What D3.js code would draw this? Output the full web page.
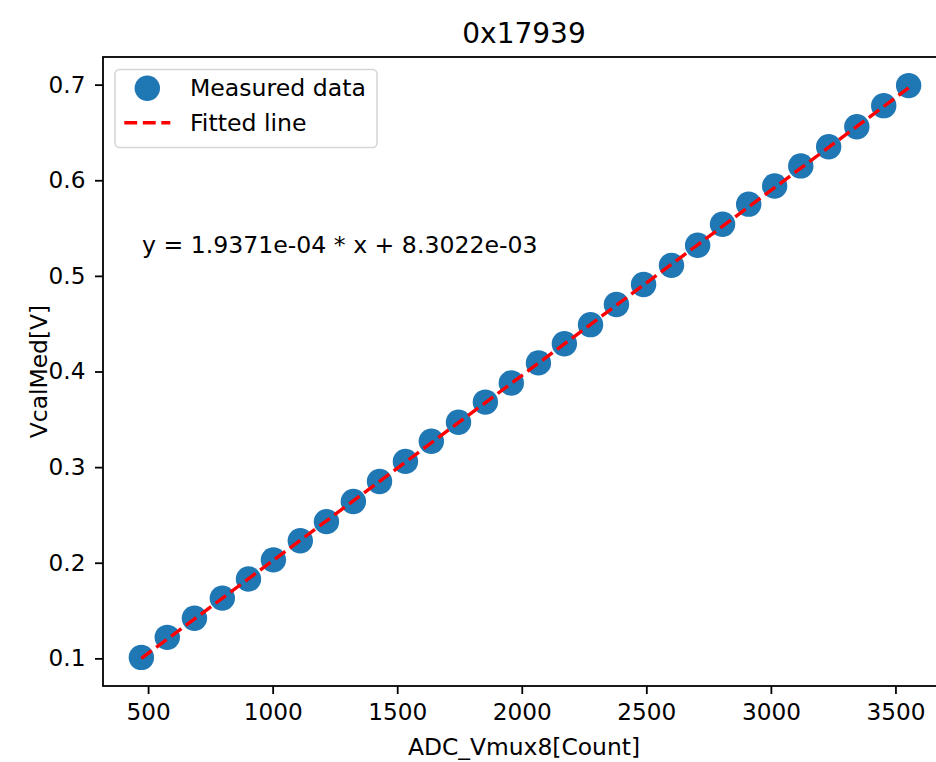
<!DOCTYPE html>
<html>
<head>
<meta charset="utf-8">
<script src="https://cdn.jsdelivr.net/npm/d3@7"></script>
<style>
  body { margin: 0; background: #fff; }
  text { font-family: "DejaVu Sans", sans-serif; fill: #000; }
</style>
</head>
<body>
<div id="chart"></div>
<script>
var adcCounts = [473, 577, 686, 798, 903, 1003, 1111, 1216, 1324, 1429,
                 1533, 1637, 1746, 1854, 1958, 2067, 2171, 2276, 2380, 2489,
                 2601, 2706, 2806, 2911, 3015, 3120, 3232, 3345, 3453, 3553];
var vcalMed = [0.101, 0.122, 0.142, 0.163, 0.183, 0.203, 0.223, 0.243, 0.264, 0.285,
               0.306, 0.327, 0.347, 0.368, 0.388, 0.409, 0.429, 0.449, 0.470, 0.491,
               0.511, 0.532, 0.554, 0.575, 0.594, 0.615, 0.635, 0.656, 0.678, 0.699];

// fit coefficients as printed on the chart
var fitSlope = 1.9371e-04;
var fitIntercept = 8.3022e-03;

var xTicks = [500, 1000, 1500, 2000, 2500, 3000, 3500];
var yTicks = [0.1, 0.2, 0.3, 0.4, 0.5, 0.6, 0.7];

var titleText = "0x17939";
var xLabelText = "ADC_Vmux8[Count]";
var yLabelText = "VcalMed[V]";
var legendLabels = ["Measured data", "Fitted line"];

var svgWidth = 936;
var svgHeight = 762;
var fontSize = 23.2;
var legendFont = 23.6;

// axes box (right side runs past the picture edge)
var plot = { left: 103, top: 57, right: 947, bottom: 686 };

var svg = d3.select("#chart")
    .append("svg")
    .attr("width", svgWidth)
    .attr("height", svgHeight);

svg.append("rect")
    .attr("width", svgWidth)
    .attr("height", svgHeight)
    .attr("fill", "#fff");

// matplotlib-like 5% margins
var xPad = (d3.max(adcCounts) - d3.min(adcCounts)) * 0.05;
var yPad = (d3.max(vcalMed) - d3.min(vcalMed)) * 0.05;

var xScale = d3.scaleLinear()
    .domain([d3.min(adcCounts) - xPad, d3.max(adcCounts) + xPad])
    .range([plot.left, plot.right]);

var yScale = d3.scaleLinear()
    .domain([d3.min(vcalMed) - yPad, d3.max(vcalMed) + yPad])
    .range([plot.bottom, plot.top]);

var data = adcCounts.map(function (x, i) {
    return { x: x, y: vcalMed[i] };
});

// points
var chartGroup = svg.append("g");
chartGroup.selectAll("circle")
    .data(data)
    .enter()
    .append("circle")
    .attr("cx", d => xScale(d.x))
    .attr("cy", d => yScale(d.y))
    .attr("r", 12.7)
    .attr("fill", "#1f77b4");

// fitted line
var xEnds = d3.extent(adcCounts);
var line = d3.line()
    .x(d => xScale(d))
    .y(d => yScale(fitSlope * d + fitIntercept));

chartGroup.append("path")
    .datum(xEnds)
    .attr("d", line)
    .attr("fill", "none")
    .attr("stroke", "red")
    .attr("stroke-width", 3.4)
    .attr("stroke-dasharray", "12.9,5.6");

// axes
var xAxis = d3.axisBottom(xScale)
    .tickValues(xTicks)
    .tickSize(8)
    .tickPadding(9.5)
    .tickFormat(d3.format("d"));

var yAxis = d3.axisLeft(yScale)
    .tickValues(yTicks)
    .tickSize(8)
    .tickPadding(9.5)
    .tickFormat(d3.format(".1f"));

var gx = svg.append("g")
    .attr("transform", `translate(0, ${plot.bottom})`)
    .call(xAxis);

var gy = svg.append("g")
    .attr("transform", `translate(${plot.left}, 0)`)
    .call(yAxis);

[gx, gy].forEach(function (g) {
    g.select(".domain").remove();
    g.selectAll(".tick line").attr("stroke", "#000").attr("stroke-width", 1.8);
    g.selectAll(".tick text")
        .attr("font-family", "DejaVu Sans")
        .attr("font-size", fontSize + "px")
        .attr("fill", "#000");
});

// spines
svg.append("rect")
    .attr("x", plot.left)
    .attr("y", plot.top)
    .attr("width", plot.right - plot.left)
    .attr("height", plot.bottom - plot.top)
    .attr("fill", "none")
    .attr("stroke", "#000")
    .attr("stroke-width", 1.8);

// title and labels
var midX = (plot.left + plot.right) / 2;
svg.append("text")
    .attr("x", midX - 1)
    .attr("y", 43)
    .attr("text-anchor", "middle")
    .attr("font-size", "28px")
    .text(titleText);

svg.append("text")
    .attr("x", midX - 1)
    .attr("y", 754.5)
    .attr("text-anchor", "middle")
    .attr("font-size", "23.4px")
    .text(xLabelText);

svg.append("text")
    .attr("transform", "rotate(-90)")
    .attr("x", -(plot.top + plot.bottom) / 2)
    .attr("y", 47)
    .attr("text-anchor", "middle")
    .attr("font-size", "23.4px")
    .text(yLabelText);

// equation
svg.append("text")
    .attr("x", 142)
    .attr("y", 253)
    .attr("font-size", legendFont + "px")
    .text("y = " + fitSlope.toExponential(4).replace("e-", "e-0") + " * x + " +
          fitIntercept.toExponential(4).replace("e-", "e-0"));

// legend
var legend = svg.append("g");
legend.append("rect")
    .attr("x", 115)
    .attr("y", 69.5)
    .attr("width", 262)
    .attr("height", 78)
    .attr("rx", 4.5)
    .attr("fill", "#fff")
    .attr("fill-opacity", 0.8)
    .attr("stroke", "#d6d6d6")
    .attr("stroke-width", 1.6);

legend.append("circle")
    .attr("cx", 147.3)
    .attr("cy", 88.3)
    .attr("r", 12.7)
    .attr("fill", "#1f77b4");

legend.append("line")
    .attr("x1", 124.3)
    .attr("x2", 170.3)
    .attr("y1", 122.7)
    .attr("y2", 122.7)
    .attr("stroke", "red")
    .attr("stroke-width", 3.4)
    .attr("stroke-dasharray", "12.9,5.6");

legend.selectAll(".legtext")
    .data(legendLabels)
    .enter()
    .append("text")
    .attr("class", "legtext")
    .attr("x", 190)
    .attr("y", (d, i) => 96 + i * 34.5)
    .attr("font-size", legendFont + "px")
    .text(d => d);
</script>
</body>
</html>
